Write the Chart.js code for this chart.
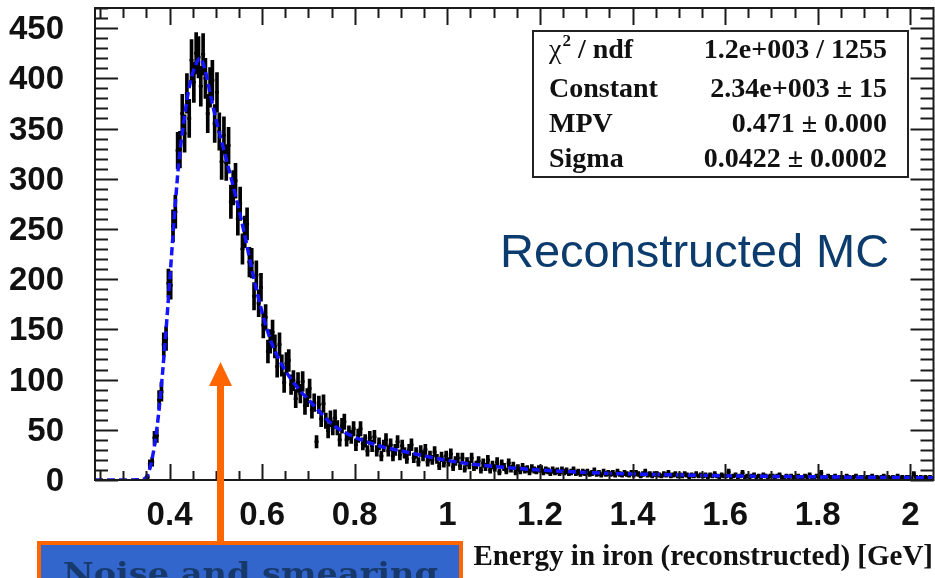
<!DOCTYPE html>
<html>
<head>
<meta charset="utf-8">
<script src="https://cdn.jsdelivr.net/npm/chart.js@4.4.1/dist/chart.umd.min.js"></script>
<style>
  html, body { margin: 0; padding: 0; background: #fff; overflow: hidden; }
  #hist { display: block; }
</style>
</head>
<body>
<canvas id="hist" width="940" height="578"></canvas>
<script>
// energy histogram, 0.005 GeV bins starting at 0.35 GeV
const binLow = 0.35;
const binWidth = 0.005;
const counts = [
  3, 16, 18, 42, 44, 80, 88, 135, 141, 196,
  194, 253, 267, 328, 329, 365, 345, 385, 360, 418,
  396, 425, 421, 392, 424, 400, 365, 391, 398, 355,
  386, 347, 317, 343, 316, 333, 277, 291, 298, 260,
  275, 230, 247, 255, 217, 216, 183, 204, 176, 192,
  154, 162, 128, 138, 147, 133, 113, 135, 114, 97,
  116, 119, 95, 99, 81, 97, 86, 98, 74, 82,
  91, 70, 77, 38, 75, 61, 76, 59, 49, 61,
  52, 62, 52, 40, 54, 58, 40, 47, 43, 51,
  35, 44, 51, 36, 39, 29, 42, 34, 43, 29,
  36, 24, 34, 40, 29, 35, 24, 30, 38, 25,
  34, 27, 21, 30, 35, 22, 27, 18, 29, 24,
  30, 18, 24, 20, 28, 21, 14, 23, 17, 24,
  18, 26, 13, 19, 22, 14, 22, 11, 18, 15,
  22, 13, 15, 19, 10, 17, 13, 20, 10, 15,
  12, 18, 8, 16, 13, 9, 17, 11, 14, 8,
  12, 9, 13, 10, 11, 8, 12, 10, 9, 11,
  11, 8, 10, 9, 7, 10, 8, 9, 7, 10,
  8, 9, 7, 8, 10, 7, 8, 6, 8, 7,
  8, 6, 7, 9, 6, 7, 5, 8, 6, 7,
  6, 7, 5, 8, 6, 5, 7, 6, 5, 7,
  5, 7, 6, 4, 6, 8, 5, 6, 4, 6,
  6, 5, 4, 6, 5, 7, 4, 5, 6, 4,
  5, 4, 6, 5, 3, 5, 4, 6, 4, 5,
  4, 5, 3, 5, 4, 6, 4, 3, 5, 4,
  4, 8, 3, 4, 5, 3, 4, 7, 3, 4,
  3, 4, 5, 3, 4, 3, 5, 4, 3, 4,
  4, 3, 4, 5, 3, 2, 4, 3, 4, 3,
  3, 4, 2, 3, 4, 3, 5, 3, 2, 4,
  3, 7, 3, 2, 4, 3, 3, 4, 2, 3,
  3, 2, 4, 3, 2, 3, 4, 2, 3, 3,
  2, 3, 3, 4, 2, 3, 2, 3, 4, 2,
  3, 2, 3, 2, 4, 2, 3, 2, 3, 3,
  2, 6, 3, 2, 3, 2, 3, 2, 3, 2
];

// Landau fit curve
const fitX = [0.239, 0.30, 0.33, 0.345, 0.35, 0.355, 0.36, 0.37, 0.38, 0.39, 0.40, 0.41, 0.42, 0.43, 0.44,
  0.45, 0.46, 0.465, 0.47, 0.48, 0.49, 0.50, 0.52, 0.54, 0.56, 0.58, 0.60, 0.62, 0.64, 0.66, 0.68, 0.70,
  0.72, 0.75, 0.78, 0.82, 0.86, 0.90, 0.95, 1.00, 1.05, 1.10, 1.20, 1.30, 1.40, 1.50, 1.60, 1.70, 1.80,
  1.90, 2.00, 2.05];
const fitY = [0, 0, 0.2, 1, 3, 8, 16, 42, 82, 135, 196, 260, 316, 354, 385,
  405, 417, 420, 418, 402, 380, 360, 324, 288, 249, 205, 167, 137, 117, 102, 90, 80,
  70, 56, 47, 39, 33, 29, 24, 19.5, 16, 13.5, 10, 7.5, 6, 5, 4.2, 3.6, 3.1,
  2.7, 2.4, 2.2];

const xTickValues = [0.4, 0.6, 0.8, 1.0, 1.2, 1.4, 1.6, 1.8, 2.0];
const yTickValues = [0, 50, 100, 150, 200, 250, 300, 350, 400, 450];

const statNames = ['ndf', 'Constant', 'MPV', 'Sigma'];
const statValues = ['1.2e+003 / 1255', '2.34e+003 \u00b1 15', '0.471 \u00b1 0.000', '0.0422 \u00b1 0.0002'];

const centers = counts.map((c, i) => binLow + binWidth * (i + 0.5));
const binPoints = counts.map((c, i) => ({ x: centers[i], y: c }));
const errBars = counts.map((c, i) => ({ x: centers[i], y: [c - Math.sqrt(c), c + Math.sqrt(c)] }));
const fitPoints = fitX.map((v, i) => ({ x: v, y: fitY[i] }));

const labelFont = { family: '"Liberation Sans", Arial, sans-serif', weight: 'bold', size: 33, lineHeight: 1 };

// ROOT style frame: ticks on all four sides pointing inwards
const frameTicks = {
  id: 'frameTicks',
  afterDatasetsDraw(chart) {
    const { ctx, chartArea: a, scales: { x, y } } = chart;
    ctx.save();
    ctx.strokeStyle = '#1a1a1a';
    ctx.lineWidth = 2;
    ctx.strokeRect(a.left, a.top, a.right - a.left, a.bottom - a.top);
    ctx.beginPath();
    for (let k = 5; k <= 41; k++) {
      const v = k * 0.05;
      if (v < x.min || v > x.max) continue;
      const px = Math.round(x.getPixelForValue(v)) + 0.5;
      const len = k % 4 === 0 ? 16 : 9;
      ctx.moveTo(px, a.bottom); ctx.lineTo(px, a.bottom - len);
      ctx.moveTo(px, a.top); ctx.lineTo(px, a.top + len + 1);
    }
    for (let k = 0; k <= 47; k++) {
      const v = k * 10;
      if (v > y.max) continue;
      const py = Math.round(y.getPixelForValue(v)) + 0.5;
      const len = k % 5 === 0 ? 23 : 13;
      ctx.moveTo(a.left, py); ctx.lineTo(a.left + len, py);
      ctx.moveTo(a.right, py); ctx.lineTo(a.right - len, py);
    }
    ctx.stroke();
    ctx.restore();
  }
};

// stats box, labels and the annotation arrow
const overlays = {
  id: 'overlays',
  afterDraw(chart) {
    const ctx = chart.ctx;
    ctx.save();

    ctx.fillStyle = '#fff';
    ctx.fillRect(533, 31, 375, 146);
    ctx.strokeStyle = '#222';
    ctx.lineWidth = 2;
    ctx.strokeRect(533, 31, 375, 146);

    const rowY = [58, 97, 132, 167];
    ctx.fillStyle = '#111';
    ctx.textBaseline = 'alphabetic';
    ctx.textAlign = 'left';
    ctx.font = '28px "Liberation Serif", serif';
    ctx.fillText('\u03c7', 549, rowY[0]);
    let cx = 549 + ctx.measureText('\u03c7').width + 1;
    ctx.font = 'bold 17px "Liberation Serif", serif';
    ctx.fillText('2', cx, rowY[0] - 12);
    cx += ctx.measureText('2').width;
    ctx.font = 'bold 28px "Liberation Serif", serif';
    ctx.fillText(' / ' + statNames[0], cx, rowY[0]);
    for (let r = 1; r < statNames.length; r++) {
      ctx.fillText(statNames[r], 549, rowY[r]);
    }
    ctx.textAlign = 'right';
    statValues.forEach((s, r) => ctx.fillText(s, 887, rowY[r]));

    ctx.font = 'bold 29px "Liberation Serif", serif';
    ctx.fillText('Energy in iron (reconstructed) [GeV]', 933, 565);

    ctx.textAlign = 'left';
    ctx.fillStyle = '#0c3c6e';
    ctx.font = '47px "Liberation Sans", Arial, sans-serif';
    ctx.fillText('Reconstructed MC', 500, 267);

    // arrow
    ctx.fillStyle = '#ff6600';
    ctx.fillRect(217, 383, 7, 160);
    ctx.beginPath();
    ctx.moveTo(209, 386);
    ctx.lineTo(232, 386);
    ctx.lineTo(220.5, 362);
    ctx.closePath();
    ctx.fill();

    // callout box
    ctx.fillRect(37, 541, 426, 40);
    ctx.fillStyle = '#3366cc';
    ctx.fillRect(41, 545, 418, 40);
    ctx.fillStyle = '#17396b';
    ctx.font = 'bold 30px "DejaVu Serif", serif';
    const label = 'Noise and smearing';
    const w = ctx.measureText(label).width;
    ctx.translate(63, 584);
    ctx.scale(375 / w, 1);
    ctx.fillText(label, 0, 0);
    ctx.restore();
  }
};

new Chart(document.getElementById('hist'), {
  type: 'scatter',
  data: {
    datasets: [
      {
        type: 'line',
        label: 'fit',
        data: fitPoints,
        borderColor: '#1414ff',
        borderWidth: 3.5,
        borderDash: [8, 4],
        pointRadius: 0,
        fill: false,
        cubicInterpolationMode: 'monotone',
        order: 0
      },
      {
        type: 'scatter',
        label: 'bins',
        data: binPoints,
        pointStyle: 'line',
        pointRadius: 2,
        borderColor: '#000',
        borderWidth: 2.5,
        order: 1
      },
      {
        type: 'bar',
        label: 'errors',
        data: errBars,
        backgroundColor: '#000',
        barThickness: 3,
        order: 2
      }
    ]
  },
  options: {
    responsive: false,
    animation: false,
    layout: { padding: { top: 8, right: 3, left: 0, bottom: 0 } },
    plugins: { legend: { display: false }, tooltip: { enabled: false } },
    scales: {
      x: {
        type: 'linear',
        min: 0.239,
        max: 2.05,
        offset: false,
        grid: { display: false },
        border: { display: false },
        afterBuildTicks: s => { s.ticks = xTickValues.map(v => ({ value: v })); },
        afterFit: s => { s.height = 98; s.paddingLeft = 0; s.paddingRight = 0; },
        ticks: {
          font: labelFont,
          color: '#111',
          padding: 11,
          maxRotation: 0,
          autoSkip: false,
          callback: v => String(Math.round(v * 10) / 10)
        }
      },
      y: {
        type: 'linear',
        min: 0,
        max: 470,
        grid: { display: false },
        border: { display: false },
        afterBuildTicks: s => { s.ticks = yTickValues.map(v => ({ value: v })); },
        afterFit: s => { s.width = 95; s.paddingTop = 0; s.paddingBottom = 0; },
        ticks: {
          font: labelFont,
          color: '#111',
          padding: 23,
          labelOffset: 2,
          callback: v => String(v)
        }
      }
    }
  },
  plugins: [frameTicks, overlays]
});
</script>
</body>
</html>
